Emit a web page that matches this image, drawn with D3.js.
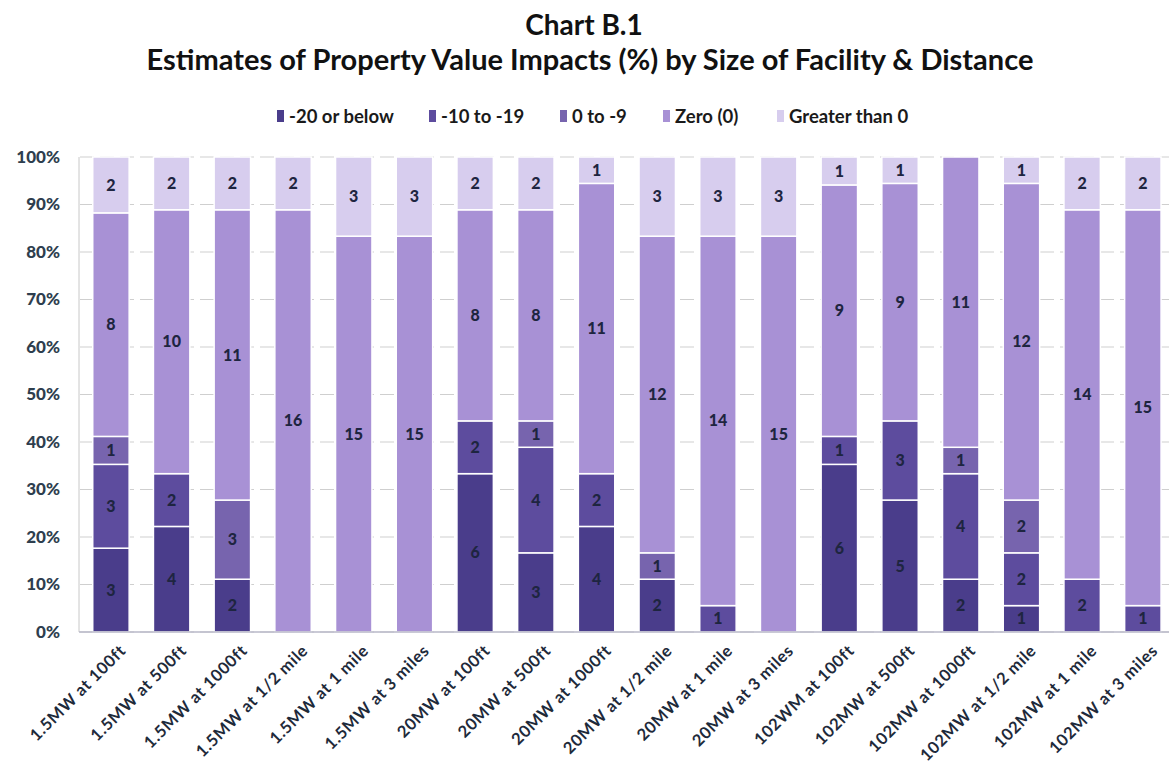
<!DOCTYPE html>
<html>
<head>
<meta charset="utf-8">
<script src="https://cdn.jsdelivr.net/npm/d3@7/dist/d3.min.js"></script>
<style>
  html, body { margin: 0; padding: 0; background: #ffffff; }
  svg { display: block; }
</style>
</head>
<body>
<svg id="chart" width="1169" height="778"></svg>
<script>
const categories = [
  "1.5MW at 100ft", "1.5MW at 500ft", "1.5MW at 1000ft", "1.5MW at 1/2 mile",
  "1.5MW at 1 mile", "1.5MW at 3 miles", "20MW at 100ft", "20MW at 500ft",
  "20MW at 1000ft", "20MW at 1/2 mile", "20MW at 1 mile", "20MW at 3 miles",
  "102WM at 100ft", "102MW at 500ft", "102MW at 1000ft", "102MW at 1/2 mile",
  "102MW at 1 mile", "102MW at 3 miles"
];
const seriesNames = ["-20 or below", "-10 to -19", "0 to -9", "Zero (0)", "Greater than 0"];
const below20   = [3, 4, 2, 0, 0, 0, 6, 3, 4, 2, 0, 0, 6, 5, 2, 1, 0, 0];
const minus10   = [3, 2, 0, 0, 0, 0, 2, 4, 2, 0, 1, 0, 1, 3, 4, 2, 2, 1];
const minus0    = [1, 0, 3, 0, 0, 0, 0, 1, 0, 1, 0, 0, 0, 0, 1, 2, 0, 0];
const zeroVals  = [8, 10, 11, 16, 15, 15, 8, 8, 11, 12, 14, 15, 9, 9, 11, 12, 14, 15];
const greater0  = [2, 2, 2, 2, 3, 3, 2, 2, 1, 3, 3, 3, 1, 1, 0, 1, 2, 2];
const yTicks = [0, 0.1, 0.2, 0.3, 0.4, 0.5, 0.6, 0.7, 0.8, 0.9, 1.0];
const colors = ["#4a3d8b", "#5d4c9e", "#7764ae", "#a891d5", "#d7cdee"];

const seriesVals = [below20, minus10, minus0, zeroVals, greater0];
const rows = categories.map((c, i) => {
  const r = { cat: c };
  seriesNames.forEach((s, k) => { r[s] = seriesVals[k][i]; });
  return r;
});

const svg = d3.select("#chart");
const FONT = "Lato, 'Open Sans', sans-serif";

const x = d3.scaleBand().domain(categories).range([80.6, 1173.2]).paddingInner(0.4).paddingOuter(0.2);
const y = d3.scaleLinear().domain([0, 1]).range([632, 157]);

// gridlines
svg.append("g").selectAll("line").data(yTicks).join("line")
  .attr("x1", 80).attr("x2", 1169)
  .attr("y1", d => y(d)).attr("y2", d => y(d))
  .attr("stroke", "#cfcfcf").attr("stroke-width", 1)
  .attr("stroke-dasharray", "14,6");

const stack = d3.stack().keys(seriesNames).offset(d3.stackOffsetExpand);
const stacked = stack(rows);

const g = svg.append("g");
stacked.forEach((layer, k) => {
  g.append("g").selectAll("rect").data(layer).join("rect")
    .attr("x", d => x(d.data.cat))
    .attr("width", x.bandwidth())
    .attr("y", d => y(d[1]))
    .attr("height", d => Math.max(0, y(d[0]) - y(d[1])))
    .attr("fill", colors[k])
    .attr("stroke", "#ffffff").attr("stroke-width", 1.5);
});

stacked.forEach((layer, k) => {
  g.append("g").selectAll("text").data(layer.filter(d => d.data[seriesNames[k]] > 0)).join("text")
    .attr("x", d => x(d.data.cat) + x.bandwidth() / 2)
    .attr("y", d => (y(d[0]) + y(d[1])) / 2)
    .attr("dy", "0.35em")
    .attr("text-anchor", "middle")
    .attr("font-family", FONT).attr("font-weight", "900").attr("font-size", 16)
    .attr("fill", "#1e2540")
    .text(d => d.data[seriesNames[k]]);
});

// axis lines
svg.append("line").attr("x1", 79).attr("x2", 79).attr("y1", 157).attr("y2", 632)
  .attr("stroke", "#c8c8c8");
svg.append("line").attr("x1", 79).attr("x2", 1169).attr("y1", 632).attr("y2", 632)
  .attr("stroke", "#b8b8c8").attr("stroke-width", 1.5);

// y axis
const yAxis = d3.axisLeft(y).tickValues(yTicks).tickFormat(d3.format(".0%")).tickSize(0).tickPadding(0);
const ya = svg.append("g").attr("transform", "translate(60,0)").call(yAxis);
ya.select(".domain").remove();
ya.selectAll("text").attr("font-family", FONT).attr("font-weight", "900").attr("font-size", 17)
  .attr("fill", "#2e3e4e");

// x axis
const xAxis = d3.axisBottom(x).tickSize(0).tickPadding(0);
const xa = svg.append("g").attr("transform", "translate(0,646)").call(xAxis);
xa.select(".domain").remove();
xa.selectAll("text")
  .attr("font-family", FONT).attr("font-weight", "bold").attr("font-size", 16.5)
  .attr("letter-spacing", "0.6px")
  .attr("fill", "#1e2a3a")
  .attr("text-anchor", "end")
  .attr("dy", "0.5em")
  .attr("transform", "translate(10,0) rotate(-45)");

// title
svg.append("text").attr("x", 584).attr("y", 35).attr("text-anchor", "middle")
  .attr("font-family", FONT).attr("font-weight", "bold").attr("font-size", 28)
  .attr("fill", "#111").text("Chart B.1");
svg.append("text").attr("x", 590).attr("y", 70).attr("text-anchor", "middle")
  .attr("font-family", FONT).attr("font-weight", "bold").attr("font-size", 29)
  .attr("fill", "#111").text("Estimates of Property Value Impacts (%) by Size of Facility & Distance");

// legend
const legendX = [277, 429, 560, 663, 777];
const leg = svg.append("g");
seriesNames.forEach((s, k) => {
  leg.append("rect").attr("x", legendX[k]).attr("y", 110).attr("width", 7).attr("height", 12)
    .attr("fill", colors[k]);
  leg.append("text").attr("x", legendX[k] + 12).attr("y", 123)
    .attr("font-family", FONT).attr("font-weight", "bold").attr("font-size", 18.5)
    .attr("fill", "#1a1a1a").text(s);
});
</script>
</body>
</html>
